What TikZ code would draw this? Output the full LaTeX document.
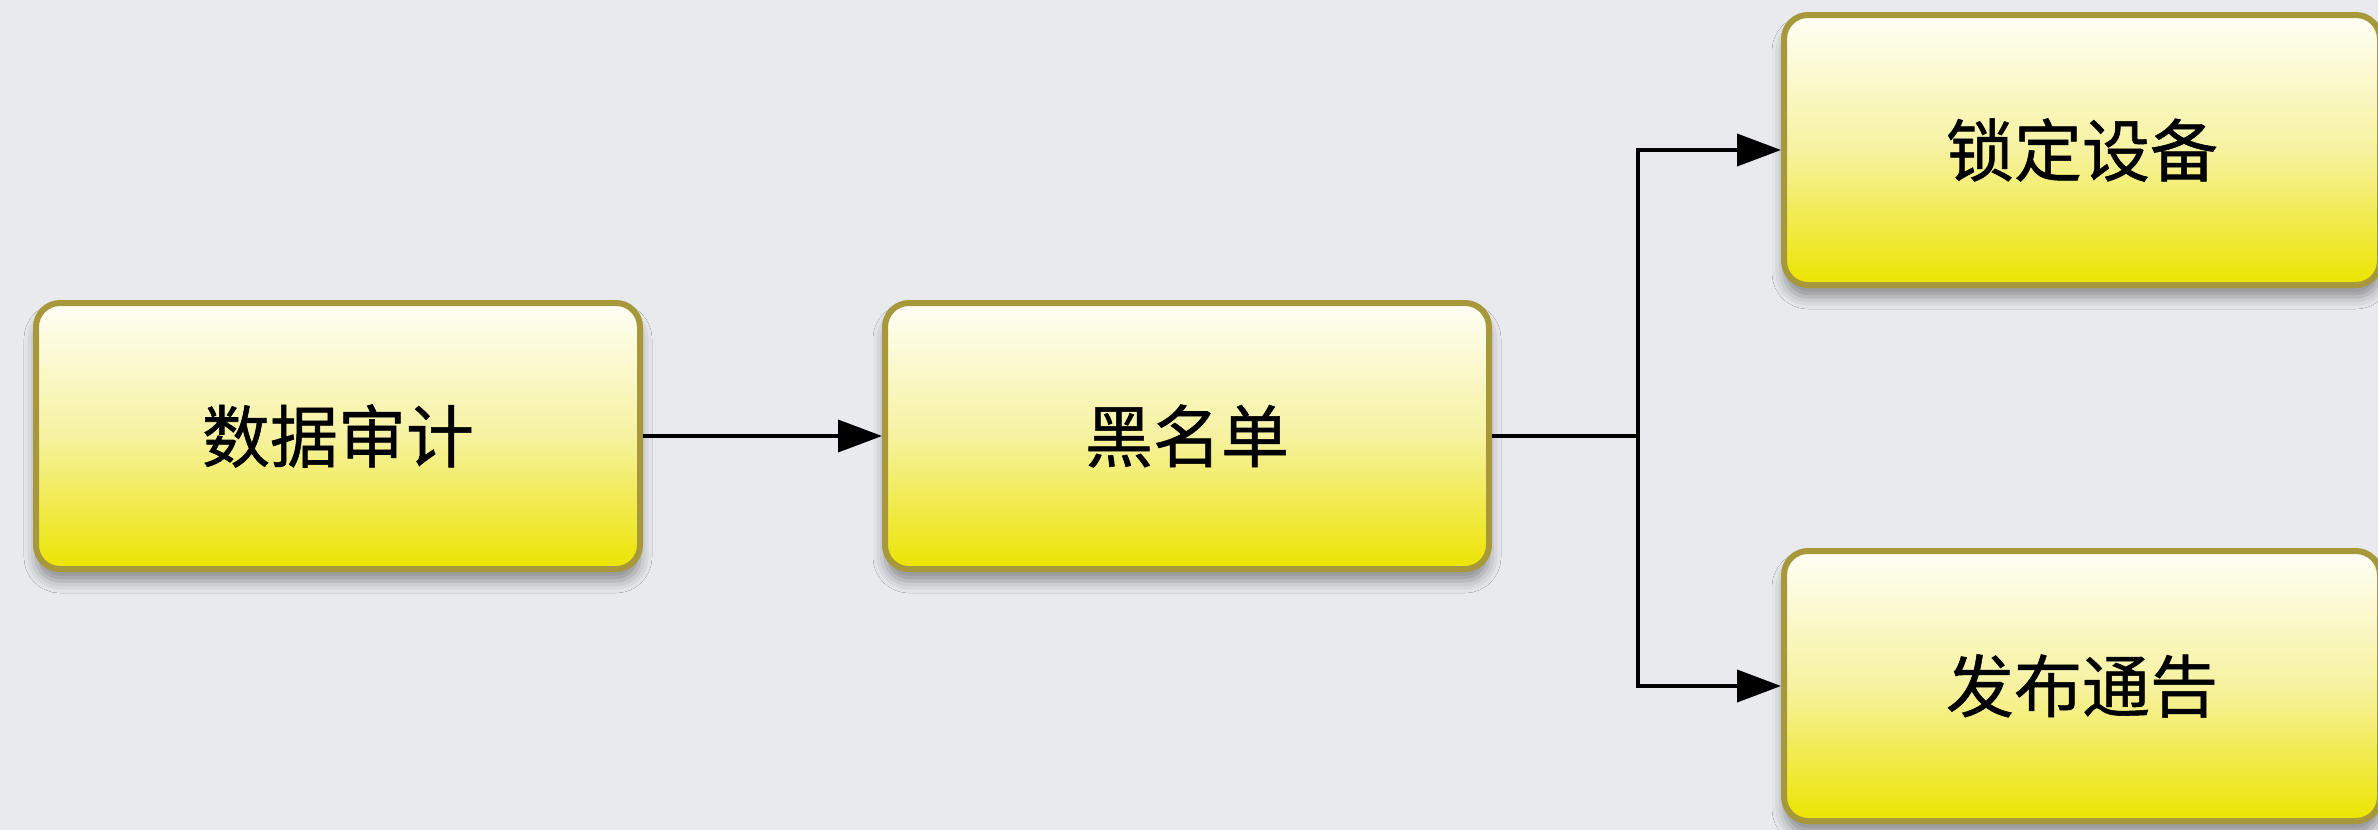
\documentclass[tikz,border=0pt]{standalone}
\usepackage{fontspec}
\newfontfamily\cjk[FakeBold=0.8]{Noto Sans CJK SC}
\usetikzlibrary{arrows.meta,shadows.blur}
\definecolor{bgc}{RGB}{233,234,238}
\definecolor{bordc}{RGB}{168,152,60}
\definecolor{topc}{RGB}{255,255,246}
\definecolor{midc}{RGB}{246,242,160}
\definecolor{botc}{RGB}{236,228,0}
\tikzset{
  box/.style={draw=bordc, line width=3pt, rounded corners=12pt,
    top color=topc, bottom color=botc, middle color=midc,
    minimum width=302pt, minimum height=133pt, inner sep=0pt,
    font=\cjk\fontsize{34}{38}\selectfont,
    blur shadow={shadow xshift=0pt, shadow yshift=-6pt, shadow blur radius=6pt, shadow opacity=40}},
  conn/.style={line width=1.9pt, black},
  arr/.style={conn, -{Triangle[length=22pt,width=16pt]}}
}
\begin{document}
\begin{tikzpicture}[x=0.5pt,y=-0.5pt]
\fill[bgc] (0,0) rectangle (2378,830);
\useasboundingbox (0,0) rectangle (2378,830);
\node[box] (a) at (338,436) {数据审计};
\node[box] (b) at (1187,436) {黑名单};
\node[box, minimum width=298pt, minimum height=135pt] (c) at (2082,150) {锁定设备};
\node[box, minimum width=298pt, minimum height=135pt] (d) at (2082,686) {发布通告};
\coordinate (j) at (1638,436);
\draw[arr] (a.east) -- (b.west);
\draw[conn] (b.east) -- (j);
\draw[arr] (j) |- (c.west);
\draw[arr] (j) |- (d.west);
\end{tikzpicture}
\end{document}
